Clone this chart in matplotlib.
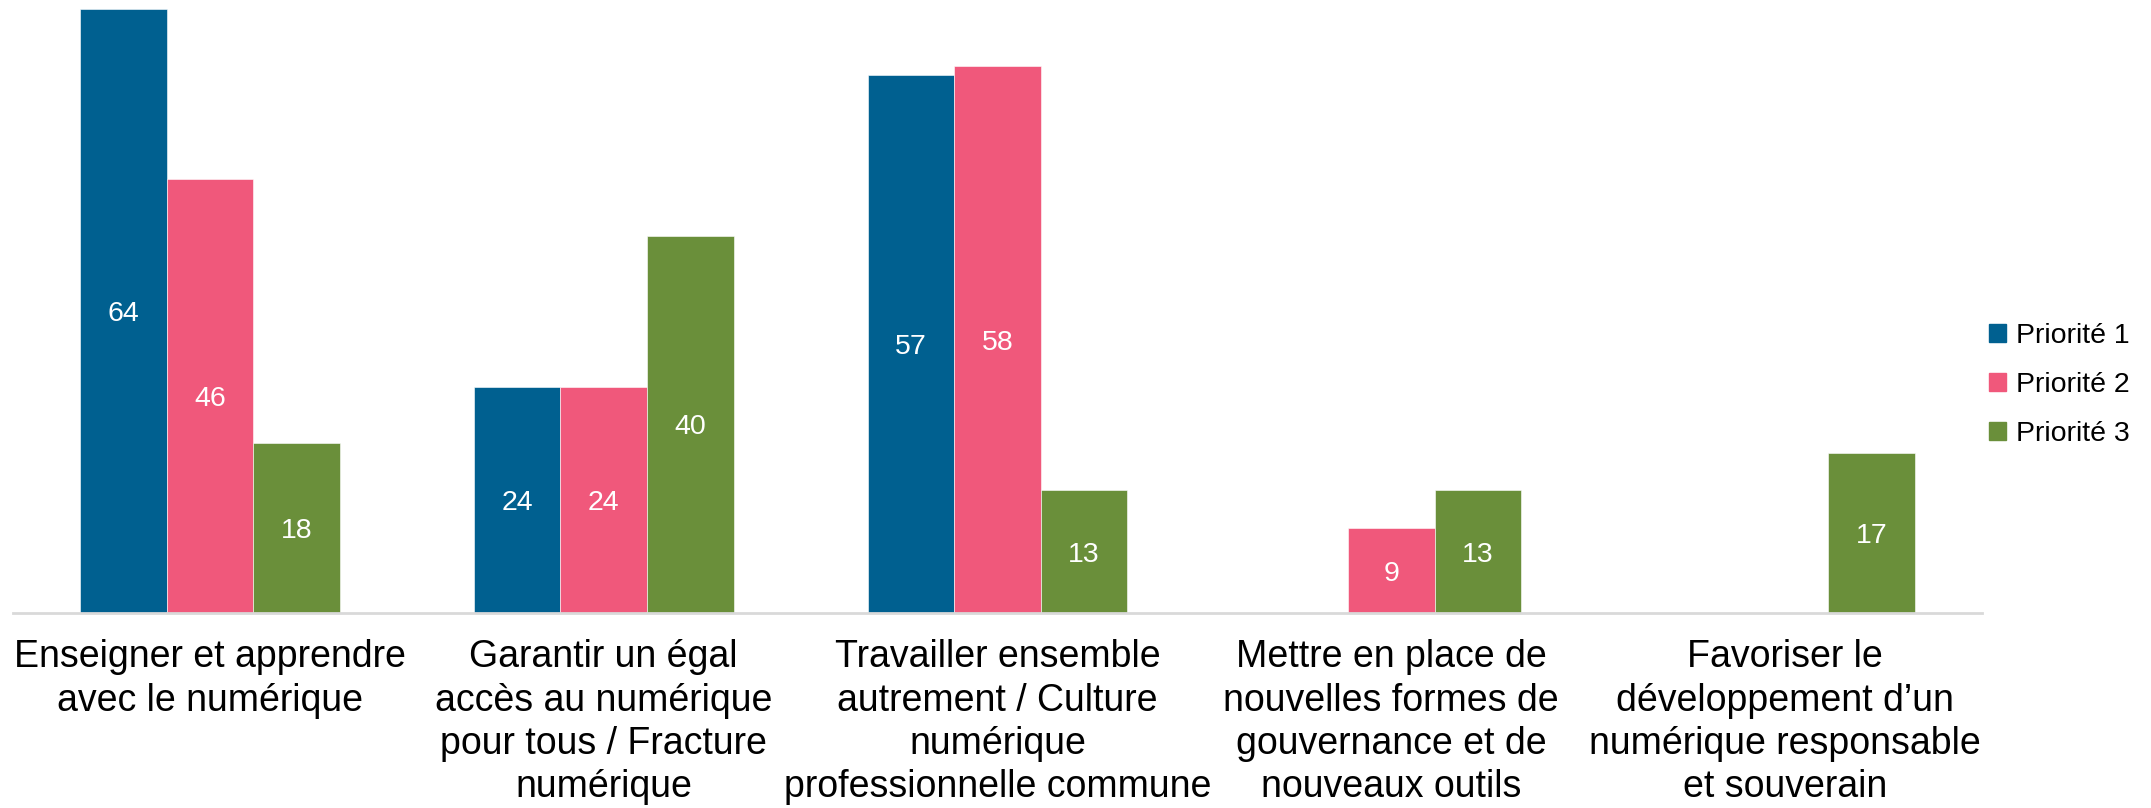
import numpy as np
import matplotlib.pyplot as plt
from matplotlib.patches import Patch

plt.rcParams['font.family'] = ['Liberation Sans', 'DejaVu Sans']

categories = [
    "Enseigner et apprendre\navec le numérique",
    "Garantir un égal\naccès au numérique\npour tous / Fracture\nnumérique",
    "Travailler ensemble\nautrement / Culture\nnumérique\nprofessionnelle commune",
    "Mettre en place de\nnouvelles formes de\ngouvernance et de\nnouveaux outils",
    "Favoriser le\ndéveloppement d\u2019un\nnumérique responsable\net souverain",
]
series_names = ["Priorité 1", "Priorité 2", "Priorité 3"]
priorite1 = [64, 24, 57, 0, 0]
priorite2 = [46, 24, 58, 9, 0]
priorite3 = [18, 40, 13, 13, 17]
colors = ["#006090", "#F0587B", "#6A8F3A"]

fig = plt.figure(figsize=(21.51, 8.08), dpi=100)
ax = fig.add_axes([13 / 2151, 195 / 808, 1969 / 2151, 613 / 808])

x = np.arange(len(categories))
w = 0.22
for k, vals in enumerate([priorite1, priorite2, priorite3]):
    pos = x + (k - 1) * w
    bars = ax.bar(pos, vals, width=w, color=colors[k], edgecolor='white', linewidth=0.4)
    for b, v in zip(bars, vals):
        if v > 0:
            ax.text(b.get_x() + b.get_width() / 2, v / 2, str(v), ha='center', va='center_baseline',
                    color='white', fontsize=20.5)

ax.set_xlim(-0.5, len(categories) - 0.5)
ax.set_ylim(0, 65)
ax.set_xticks(x)
ax.set_xticklabels(categories, fontsize=27, linespacing=1.26, va='top')
ax.tick_params(axis='x', length=0, pad=19)
ax.set_yticks([])
for s in ['top', 'right', 'left']:
    ax.spines[s].set_visible(False)
ax.spines['bottom'].set_color('#D9D9D9')
ax.spines['bottom'].set_linewidth(2)

handles = [Patch(color=c) for c in colors]
fig.legend(handles, series_names, loc='center left', bbox_to_anchor=(1963 / 2151, 1 - 385 / 808),
           frameon=False, fontsize=20.5, handlelength=0.6, handleheight=0.6,
           handletextpad=0.35, labelspacing=0.8)

fig.savefig('out.png', dpi=100)
